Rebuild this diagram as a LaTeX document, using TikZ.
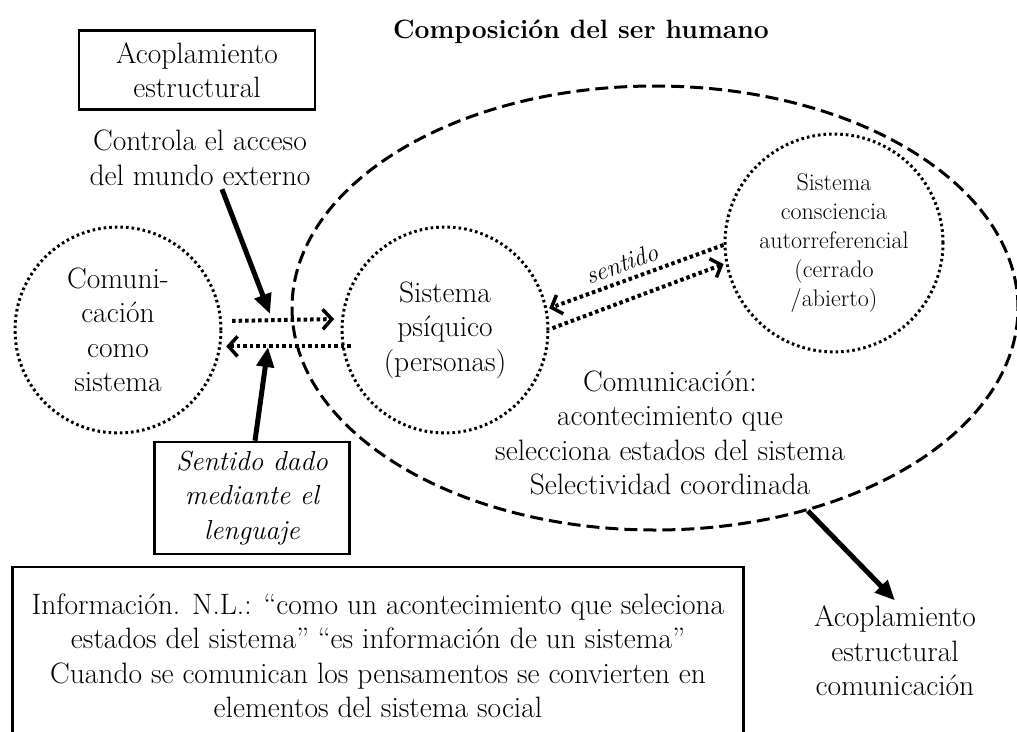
\documentclass[tikz,border=0pt]{standalone}
\usepackage{fontspec}
\usetikzlibrary{shapes.geometric,arrows.meta,positioning}

\tikzset{
  txt/.style={align=center,font=\fontsize{29.5}{34.5}\selectfont},
  ring/.style={circle,draw,line width=3pt,dash pattern=on 2.6pt off 3pt,inner sep=0pt},
  frame/.style={draw,line width=2.6pt,txt},
  bigarrow/.style={line width=5pt,-{Triangle[length=20pt,width=17pt]}},
  dotarrow/.style={line width=4pt,dash pattern=on 3.5pt off 3pt,-{Straight Barb[length=9pt,width=20pt,line width=3.5pt]}}
}

\begin{document}
\begin{tikzpicture}[x=1pt,y=-1pt]
\useasboundingbox (0,0) rectangle (1017,731);

\node[txt,font=\fontsize{26.5}{32}\selectfont\bfseries] (title) at (581,32) {Composición del ser humano};

\node[frame,minimum width=236pt,minimum height=79pt] (acop) at (197,70) {Acoplamiento\\estructural};
\node[txt] (controla) at (200,158) {Controla el acceso\\del mundo externo};

\node[ellipse,draw,line width=3pt,dash pattern=on 13pt off 6pt,minimum width=726pt,minimum height=444pt] (humano) at (655,308) {};

\node[ring,txt,minimum size=206pt] (comm) at (118,330) {Comuni-\\cación\\como\\sistema};
\node[ring,txt,minimum size=206pt] (psi) at (445,330) {Sistema\\psíquico\\(personas)};
\node[ring,align=center,font=\fontsize{24}{29}\selectfont,minimum size=218pt] (conc) at (834,243) {Sistema\\consciencia\\autorreferencial\\(cerrado\\/abierto)};

\node[txt] (comtext) at (670,433) {Comunicación:\\acontecimiento que\\selecciona estados del sistema\\Selectividad coordinada};

\node[frame,font=\fontsize{27.5}{34.5}\selectfont\itshape,minimum width=195pt,minimum height=112pt] (lenguaje) at (252,498) {Sentido dado\\mediante el\\lenguaje};

\node[frame,minimum width=731pt,minimum height=178pt] (info) at (378,656) {Información. N.L.: “como un acontecimiento que seleciona\\estados del sistema” “es información de un sistema”\\Cuando se comunican los pensamentos se convierten en\\elementos del sistema social};

\node[txt] (acopcom) at (895,651) {Acoplamiento\\estructural\\comunicación};

% entradas al sistema
\coordinate (access) at (270,314);
\coordinate (meaning) at (268,347);
\draw[bigarrow] ([xshift=22pt]controla.south) -- (access);
\draw[bigarrow] ([xshift=3pt]lenguaje.north) -- (meaning);

\draw[dotarrow] ([xshift=10pt]comm.5.6) -- ([xshift=-7pt]psi.174.4);
\draw[dotarrow] ([xshift=9pt]psi.189) -- ([xshift=5pt]comm.-9);

\draw[dotarrow] (conc.181) -- node[sloped,above=3pt,pos=0.55,font=\fontsize{25}{28}\selectfont\itshape] {sentido} ([xshift=2pt]psi.12);
\draw[dotarrow] ([xshift=3pt]psi.1) -- ([xshift=-2pt]conc.191);

\draw[bigarrow] (humano.-53) -- ([yshift=2pt]acopcom.north);

\end{tikzpicture}
\end{document}
